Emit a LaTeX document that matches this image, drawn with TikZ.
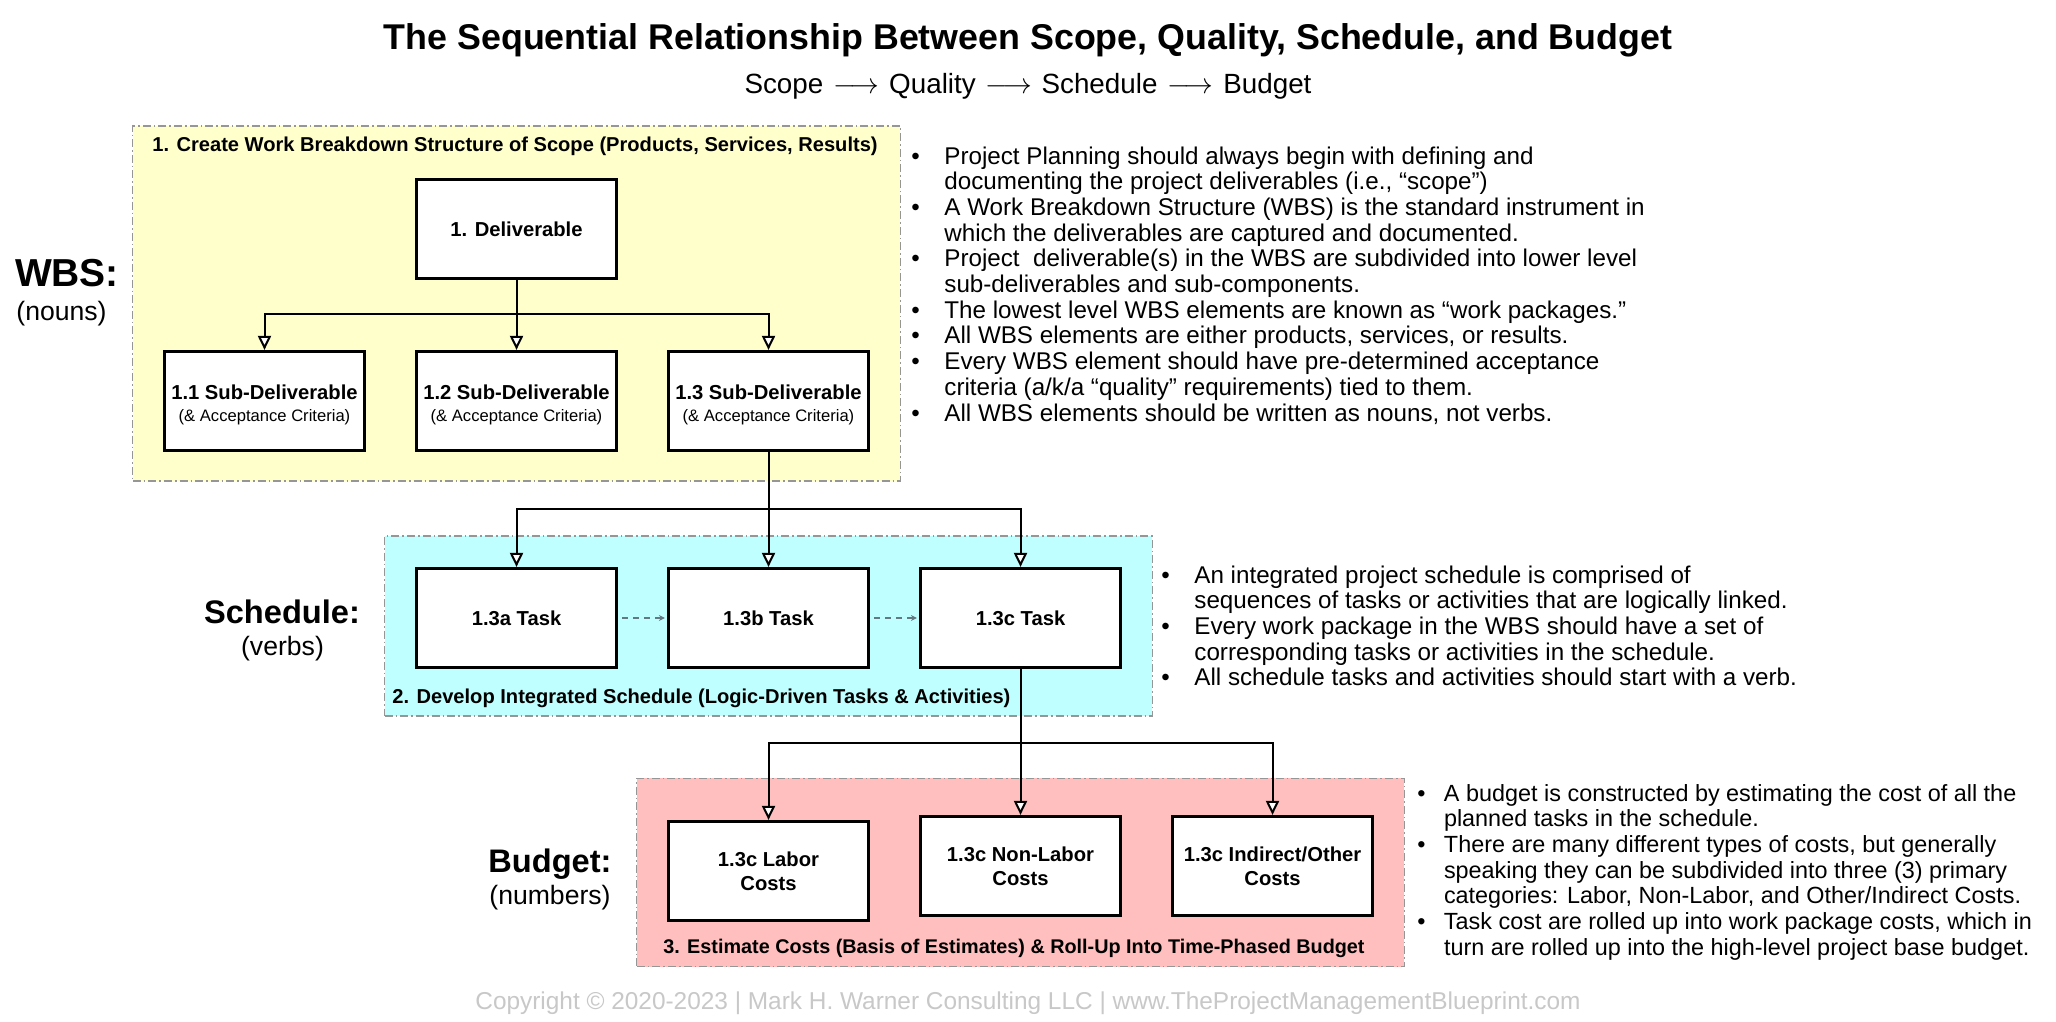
\documentclass[tikz,border=0pt]{standalone}
\usepackage{fontspec}
\setmainfont{Liberation Sans}
\usetikzlibrary{arrows.meta}
\definecolor{wbsyellow}{RGB}{255,255,204}
\definecolor{schcyan}{RGB}{191,255,255}
\definecolor{budpink}{RGB}{255,191,191}
\definecolor{framegray}{RGB}{150,150,150}
\definecolor{copygray}{RGB}{200,200,200}
\definecolor{dashblue}{RGB}{100,120,130}
\newcommand{\bulletmark}{\makebox[16.5pt][l]{•}}
\newcommand{\bulletmarkb}{\makebox[13.3pt][l]{•}}
\newcommand{\subdel}[1]{\rule{0pt}{11.3pt}#1 Sub-Deliverable\\[-1pt]{\fontsize{8.3}{9.8}\selectfont\mdseries (\& Acceptance Criteria)}}
\newcommand{\seqarrow}{\kern1pt$\longrightarrow$\kern1pt}
\begin{document}
\begin{tikzpicture}[x=0.5pt,y=-0.5pt,
  container/.style={draw=framegray, line width=0.6pt, dash pattern=on 4pt off 1.5pt on 0.8pt off 1.5pt, minimum width=383.75pt, inner sep=0pt},
  itembox/.style={draw=black, fill=white, line width=1.6pt, minimum width=100pt, minimum height=49.5pt, inner sep=0pt, align=center, font=\fontsize{10.1}{12.2}\selectfont\bfseries},
  conn/.style={draw=black, line width=1pt, -{Triangle[width=6.5pt,length=7pt,fill=white]}},
  plainline/.style={draw=black, line width=1pt},
  logic/.style={draw=dashblue, line width=0.7pt, dash pattern=on 3pt off 2.5pt, shorten <=2pt, shorten >=1pt, -{Stealth[length=3pt,width=3pt]}},
  boxtitle/.style={anchor=west, inner sep=0pt, font=\fontsize{10.05}{11}\selectfont\bfseries},
  sidehead/.style={inner sep=0pt, font=\fontsize{16.3}{18}\selectfont\bfseries},
  sidesub/.style={inner sep=0pt, font=\fontsize{13.3}{15}\selectfont},
  bullets/.style={anchor=base west, inner sep=0pt, font=\fontsize{12.1}{12.85}\selectfont},
  bulletsb/.style={anchor=base west, inner sep=0pt, font=\fontsize{11.7}{12.85}\selectfont},
]
\fill[white] (0,0) rectangle (2056,1022);
\useasboundingbox (0,0) rectangle (2056,1022);

% titles
\node[font=\fontsize{17.9}{20}\selectfont\bfseries, anchor=base, inner sep=0pt] (title) at (1028,50) {The Sequential Relationship Between Scope, Quality, Schedule, and Budget};
\node[font=\fontsize{13.9}{15}\selectfont, anchor=base, inner sep=0pt] (subtitle) at (1028,94) {Scope \seqarrow{} Quality \seqarrow{} Schedule \seqarrow{} Budget};

% containers
\node[container, fill=wbsyellow, minimum height=177.5pt] (wbsarea) at (516.5,303.5) {};
\node[container, fill=schcyan, minimum height=90pt] (scharea) at (768.5,626) {};
\node[container, fill=budpink, minimum height=94.2pt] (budarea) at (1020.5,872.5) {};

\node[boxtitle] (wbstitle) at (152,146) {1. Create Work Breakdown Structure of Scope (Products, Services, Results)};
\node[boxtitle] (schtitle) at (392,698) {2. Develop Integrated Schedule (Logic-Driven Tasks \& Activities)};
\node[boxtitle, font=\fontsize{9.9}{11}\selectfont\bfseries] (budtitle) at (663,948) {3. Estimate Costs (Basis of Estimates) \& Roll-Up Into Time-Phased Budget};

% side labels
\node[sidehead, font=\fontsize{19.5}{21}\selectfont\bfseries] (wbshead) at (67,273) {WBS:};
\node[sidesub] (wbssub) at (61.5,314) {(nouns)};
\node[sidehead] (schhead) at (282,612) {Schedule:};
\node[sidesub] (schsub) at (282.5,649) {(verbs)};
\node[sidehead] (budhead) at (550,864) {Budget:};
\node[sidesub] (budsub) at (550,898) {(numbers)};

% coordinates of the buses
\coordinate (bus1) at (516.5,314);
\coordinate (bus2) at (768.5,509);
\coordinate (bus3) at (1020.5,743);

% boxes
\node[itembox] (del) at (516.5,229) {1. Deliverable};
\node[itembox] (s11) at (264.5,401) {\subdel{1.1}};
\node[itembox] (s12) at (516.5,401) {\subdel{1.2}};
\node[itembox] (s13) at (768.5,401) {\subdel{1.3}};
\node[itembox] (t3a) at (516.5,618) {1.3a Task};
\node[itembox] (t3b) at (768.5,618) {1.3b Task};
\node[itembox] (t3c) at (1020.5,618) {1.3c Task};
\node[itembox] (c1) at (768.5,871) {1.3c Labor\\Costs};
\node[itembox] (c2) at (1020.5,866) {1.3c Non-Labor\\Costs};
\node[itembox] (c3) at (1272.5,866) {1.3c Indirect/Other\\Costs};

% connectors
\draw[plainline] (del.south) -- (bus1);
\draw[conn] (bus1) -| (s11.north);
\draw[conn] (bus1) -- (s12.north);
\draw[conn] (bus1) -| (s13.north);
\draw[plainline] (s13.south) -- (bus2);
\draw[conn] (bus2) -| (t3a.north);
\draw[conn] (bus2) -- (t3b.north);
\draw[conn] (bus2) -| (t3c.north);
\draw[plainline] (t3c.south) -- (bus3);
\draw[conn] (bus3) -| (c1.north);
\draw[conn] (bus3) -- (c2.north);
\draw[conn] (bus3) -| (c3.north);
\draw[logic] (t3a.east) -- (t3b.west);
\draw[logic] (t3b.east) -- (t3c.west);

% notes
\node[bullets] (wbsnotes) at (911,164) {\begin{tabular}[t]{@{}l@{}l@{}}
\bulletmark & Project Planning should always begin with defining and\\
 & documenting the project deliverables (i.e., “scope”)\\
\bulletmark & A Work Breakdown Structure (WBS) is the standard instrument in\\
 & which the deliverables are captured and documented.\\
\bulletmark & Project\ \ deliverable(s) in the WBS are subdivided into lower level\\
 & sub-deliverables and sub-components.\\
\bulletmark & The lowest level WBS elements are known as “work packages.”\\
\bulletmark & All WBS elements are either products, services, or results.\\
\bulletmark & Every WBS element should have pre-determined acceptance\\
 & criteria (a/k/a “quality” requirements) tied to them.\\
\bulletmark & All WBS elements should be written as nouns, not verbs.
\end{tabular}};
\node[bullets] (schnotes) at (1161,583) {\begin{tabular}[t]{@{}l@{}l@{}}
\bulletmark & An integrated project schedule is comprised of\\
 & sequences of tasks or activities that are logically linked.\\
\bulletmark & Every work package in the WBS should have a set of\\
 & corresponding tasks or activities in the schedule.\\
\bulletmark & All schedule tasks and activities should start with a verb.
\end{tabular}};
\node[bulletsb] (budnotes) at (1417,801) {\begin{tabular}[t]{@{}l@{}l@{}}
\bulletmarkb & A budget is constructed by estimating the cost of all the\\
 & planned tasks in the schedule.\\
\bulletmarkb & There are many different types of costs, but generally\\
 & speaking they can be subdivided into three (3) primary\\
 & categories: Labor, Non-Labor, and Other/Indirect Costs.\\
\bulletmarkb & Task cost are rolled up into work package costs, which in\\
 & turn are rolled up into the high-level project base budget.
\end{tabular}};

\node[font=\fontsize{12.2}{14}\selectfont, text=copygray, anchor=base, inner sep=0pt] (copyright) at (1028,1009) {Copyright © 2020-2023 | Mark H. Warner Consulting LLC | www.TheProjectManagementBlueprint.com};
\end{tikzpicture}
\end{document}
